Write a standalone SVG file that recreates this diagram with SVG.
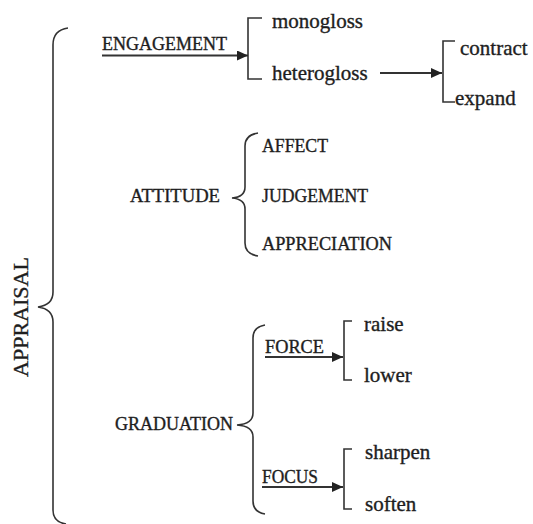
<svg xmlns="http://www.w3.org/2000/svg" width="533" height="524" viewBox="0 0 533 524" font-family="'Liberation Serif', 'DejaVu Serif', 'Times New Roman', serif">
<style>
text{font-family:'Liberation Serif','DejaVu Serif','Times New Roman',serif;fill:#1e1e1e;stroke:#1e1e1e;stroke-width:0.35}
.c{font-size:18px}
.l{font-size:21px}
.ln{fill:none;stroke:#333;stroke-width:1.6}
.ar{fill:none;stroke:#333;stroke-width:1.8}
</style>
<defs>
<marker id="ah" markerWidth="12" markerHeight="10" refX="11" refY="5" orient="auto" markerUnits="userSpaceOnUse">
<path d="M0,0 L11,5 L0,10 Z" fill="#222"/>
</marker>
</defs>
<rect width="533" height="524" fill="#fff"/>
<g id="connectors">
<path class="ln" d="M68,28 Q53,30 53,45 L53,292 Q53,305 38,307 Q53,309 53,322 L53,510 Q53,522 66,524"/>
<path class="ln" d="M258,133 Q245,135 245,146 L245,187 Q245,197 232,198 Q245,199 245,209 L245,243 Q245,254 258,256"/>
<path class="ln" d="M265,325 Q253,327 253,338 L253,413 Q253,424 237,425 Q253,426 253,437 L253,501 Q253,512 265,514"/>
<path class="ln" d="M262,18 H248 V79 H262"/>
<path class="ln" d="M455,41 H443 V102 H455"/>
<path class="ln" d="M352,321 H344 V380 H352"/>
<path class="ln" d="M352,449 H344 V509 H352"/>
<line class="ar" x1="102" y1="55.5" x2="248" y2="55.5" marker-end="url(#ah)"/>
<line class="ar" x1="380" y1="73" x2="442" y2="73" marker-end="url(#ah)"/>
<line class="ar" x1="265" y1="357" x2="343" y2="357" marker-end="url(#ah)"/>
<line class="ar" x1="262" y1="487" x2="343" y2="487" marker-end="url(#ah)"/>
</g>
<g id="appraisal"><text x="0" y="0" transform="translate(28,377) rotate(-90)" font-size="22" textLength="120" lengthAdjust="spacingAndGlyphs">APPRAISAL</text></g>
<g id="engagement"><text class="c" x="102" y="50" textLength="125" lengthAdjust="spacingAndGlyphs">ENGAGEMENT</text></g>
<g id="monogloss"><text class="l" x="272" y="28">monogloss</text></g>
<g id="heterogloss"><text class="l" x="272" y="80">heterogloss</text></g>
<g id="contract"><text class="l" x="460" y="55">contract</text></g>
<g id="expand"><text class="l" x="455" y="105">expand</text></g>
<g id="attitude"><text class="c" x="130" y="202" textLength="90" lengthAdjust="spacingAndGlyphs">ATTITUDE</text></g>
<g id="affect"><text class="c" x="262" y="152" textLength="66" lengthAdjust="spacingAndGlyphs">AFFECT</text></g>
<g id="judgement"><text class="c" x="262" y="202" textLength="106" lengthAdjust="spacingAndGlyphs">JUDGEMENT</text></g>
<g id="appreciation"><text class="c" x="262" y="250" textLength="130" lengthAdjust="spacingAndGlyphs">APPRECIATION</text></g>
<g id="graduation"><text class="c" x="115" y="430" textLength="118" lengthAdjust="spacingAndGlyphs">GRADUATION</text></g>
<g id="force"><text class="c" x="265" y="353" textLength="59" lengthAdjust="spacingAndGlyphs">FORCE</text></g>
<g id="raise"><text class="l" x="364" y="331">raise</text></g>
<g id="lower"><text class="l" x="364" y="382">lower</text></g>
<g id="focus"><text class="c" x="262" y="483" textLength="56" lengthAdjust="spacingAndGlyphs">FOCUS</text></g>
<g id="sharpen"><text class="l" x="365" y="459">sharpen</text></g>
<g id="soften"><text class="l" x="365" y="511">soften</text></g>
</svg>
